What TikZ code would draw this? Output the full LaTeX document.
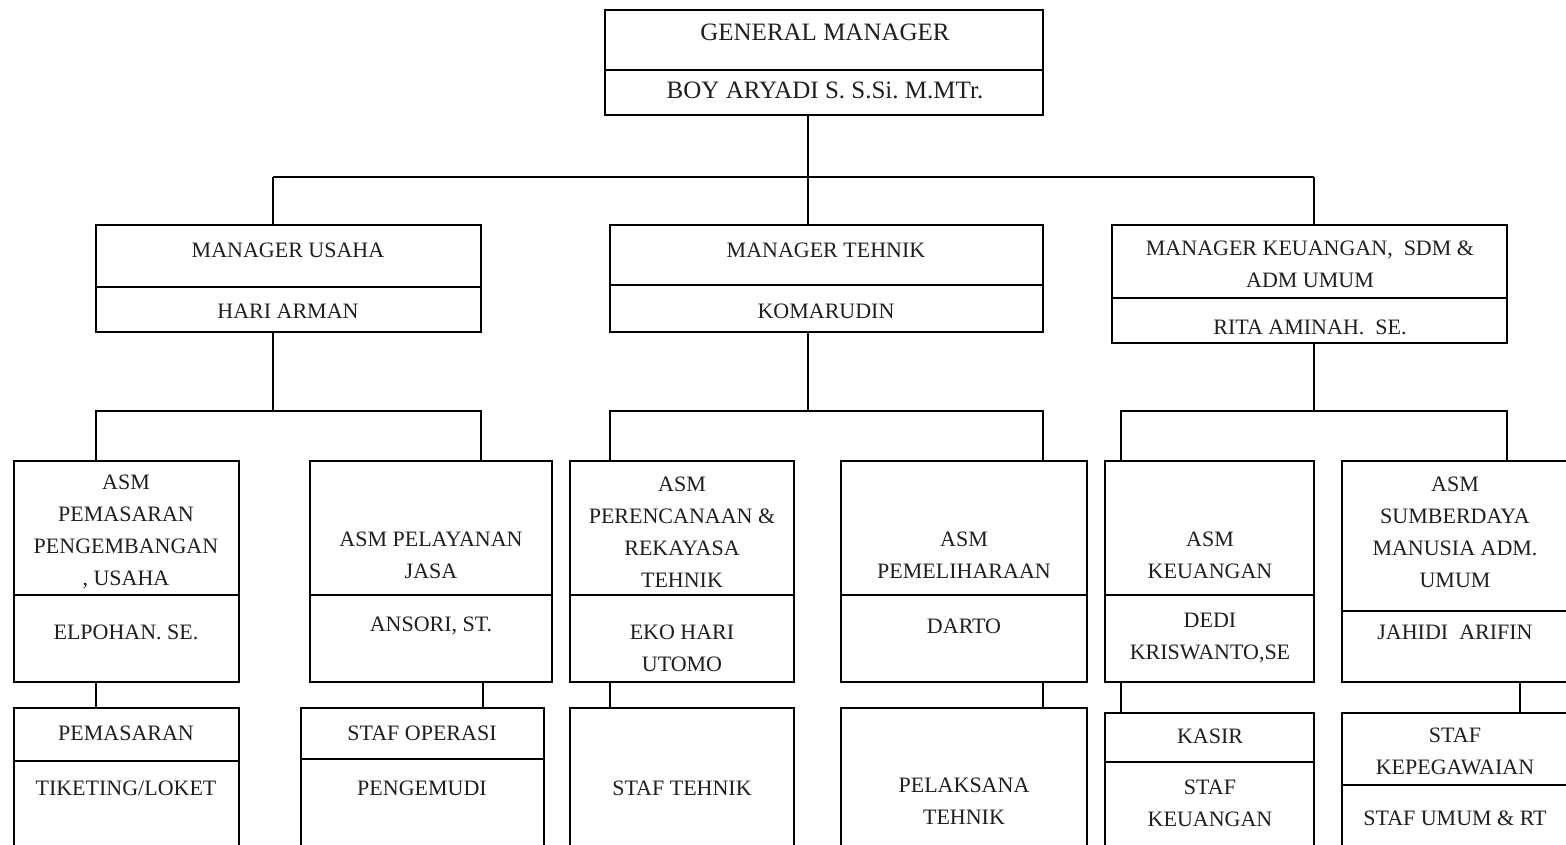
\documentclass[tikz,border=0pt]{standalone}
\usepackage{fontspec}
\setmainfont{Liberation Serif}
\begin{document}
\begin{tikzpicture}[x=1pt,y=-1pt,
  bx/.style={draw, line width=1.6pt, rectangle, inner sep=0pt, outer sep=0pt, anchor=north west},
  tx/.style={align=center, font=\fontsize{22}{32}\selectfont, inner sep=0pt, text=black!88},
  txbig/.style={tx, font=\fontsize{25}{32}\selectfont},
  ln/.style={line width=1.6pt}]
\newcommand\bx[5]{\node[bx, minimum width=#4pt, minimum height=#5pt] (#1) at (#2,#3) {};}
\newcommand\dv[2]{\draw[ln] ([yshift=-#2pt]#1.north west) -- ([yshift=-#2pt]#1.north east);}
\useasboundingbox (0,0) rectangle (1566,844);
\fill[white] (0,0) rectangle (1566,844);
\clip (0,0) rectangle (1566,844);
% boxes
\bx{gm}{605}{10}{438}{105}\dv{gm}{60}
\bx{mu}{96}{225}{385}{107}\dv{mu}{62}
\bx{mt}{610}{225}{433}{107}\dv{mt}{60}
\bx{mk}{1112}{225}{395}{118}\dv{mk}{73}
\bx{a1}{14}{461}{225}{221}\dv{a1}{134}
\bx{a2}{310}{461}{242}{221}\dv{a2}{134}
\bx{a3}{570}{461}{224}{221}\dv{a3}{134}
\bx{a4}{841}{461}{246}{221}\dv{a4}{134}
\bx{a5}{1105}{461}{209}{221}\dv{a5}{134}
\bx{a6}{1342}{461}{226}{221}\dv{a6}{150}
\bx{s1}{14}{708}{225}{170}\dv{s1}{53}
\bx{s2}{301}{708}{243}{170}\dv{s2}{51}
\bx{s3}{570}{708}{224}{170}
\bx{s4}{841}{708}{246}{170}
\bx{s5}{1105}{713}{209}{165}\dv{s5}{49}
\bx{s6}{1342}{713}{226}{165}\dv{s6}{72}
% texts
\node[txbig] (t1) at (825,32) {GENERAL MANAGER};
\node[txbig] (t2) at (825,90) {BOY\ ARYADI\ S.\ S.Si.\ M.MTr.};
\node[tx] (t3) at (288,250) {MANAGER USAHA};
\node[tx] (t4) at (288,311) {HARI ARMAN};
\node[tx] (t5) at (826,250) {MANAGER TEHNIK};
\node[tx] (t6) at (826,311) {KOMARUDIN};
\node[tx] (t7) at (1310,264) {MANAGER KEUANGAN,\ \ SDM \&\\ADM UMUM};
\node[tx] (t8) at (1310,327) {RITA AMINAH.\ \ SE.};
\node[tx] (t9) at (126,532) {ASM\\PEMASARAN\\PENGEMBANGAN\\, USAHA};
\node[tx] (t10) at (126,632) {ELPOHAN. SE.};
\node[tx] (t11) at (431,555) {ASM PELAYANAN\\JASA};
\node[tx] (t12) at (431,626) {ANSORI, ST.};
\node[tx] (t13) at (682,532) {ASM\\PERENCANAAN \&\\REKAYASA\\TEHNIK};
\node[tx] (t14) at (682,648) {EKO HARI\\UTOMO};
\node[tx] (t15) at (964,555) {ASM\\PEMELIHARAAN};
\node[tx] (t16) at (964,626) {DARTO};
\node[tx] (t17) at (1210,555) {ASM\\KEUANGAN};
\node[tx] (t18) at (1210,638) {DEDI\\KRISWANTO,SE};
\node[tx] (t19) at (1455,532) {ASM\\SUMBERDAYA\\MANUSIA ADM.\\UMUM};
\node[tx] (t20) at (1455,632) {JAHIDI\ \ ARIFIN};
\node[tx] (t21) at (126,733) {PEMASARAN};
\node[tx] (t22) at (126,788) {TIKETING/LOKET};
\node[tx] (t23) at (422,733) {STAF OPERASI};
\node[tx] (t24) at (422,788) {PENGEMUDI};
\node[tx] (t25) at (682,788) {STAF TEHNIK};
\node[tx] (t26) at (964,801) {PELAKSANA\\TEHNIK};
\node[tx] (t27) at (1210,736) {KASIR};
\node[tx] (t28) at (1210,803) {STAF\\KEUANGAN};
\node[tx] (t29) at (1455,751) {STAF\\KEPEGAWAIAN};
\node[tx] (t30) at (1455,818) {STAF UMUM \& RT};
% junction coordinates
\coordinate (j0) at (808,177);
\coordinate (j1) at (273,177);
\coordinate (j3) at (1314,177);
\coordinate (k1) at (273,411);
\coordinate (k1l) at (96,411);
\coordinate (k1r) at (481,411);
\coordinate (k2) at (808,411);
\coordinate (k2l) at (610,411);
\coordinate (k2r) at (1043,411);
\coordinate (k3) at (1314,411);
\coordinate (k3l) at (1121,411);
\coordinate (k3r) at (1507,411);
\coordinate (c1) at (96,0);
\coordinate (c2) at (483,0);
\coordinate (c3) at (610,0);
\coordinate (c4) at (1043,0);
\coordinate (c5) at (1121,0);
\coordinate (c6) at (1520,0);
% connectors
\draw[ln] (j0 |- gm.south) -- (j0);
\draw[ln] (j1) -- (j3);
\draw[ln] (j1) -- (j1 |- mu.north);
\draw[ln] (j0) -- (j0 |- mt.north);
\draw[ln] (j3) -- (j3 |- mk.north);
\draw[ln] (k1 |- mu.south) -- (k1);
\draw[ln] (k1l |- a1.north) -- (k1l) -- (k1r) -- (k1r |- a2.north);
\draw[ln] (k2 |- mt.south) -- (k2);
\draw[ln] (k2l |- a3.north) -- (k2l) -- (k2r) -- (k2r |- a4.north);
\draw[ln] (k3 |- mk.south) -- (k3);
\draw[ln] (k3l |- a5.north) -- (k3l) -- (k3r) -- (k3r |- a6.north);
\draw[ln] (c1 |- a1.south) -- (c1 |- s1.north);
\draw[ln] (c2 |- a2.south) -- (c2 |- s2.north);
\draw[ln] (c3 |- a3.south) -- (c3 |- s3.north);
\draw[ln] (c4 |- a4.south) -- (c4 |- s4.north);
\draw[ln] (c5 |- a5.south) -- (c5 |- s5.north);
\draw[ln] (c6 |- a6.south) -- (c6 |- s6.north);
\end{tikzpicture}
\end{document}
